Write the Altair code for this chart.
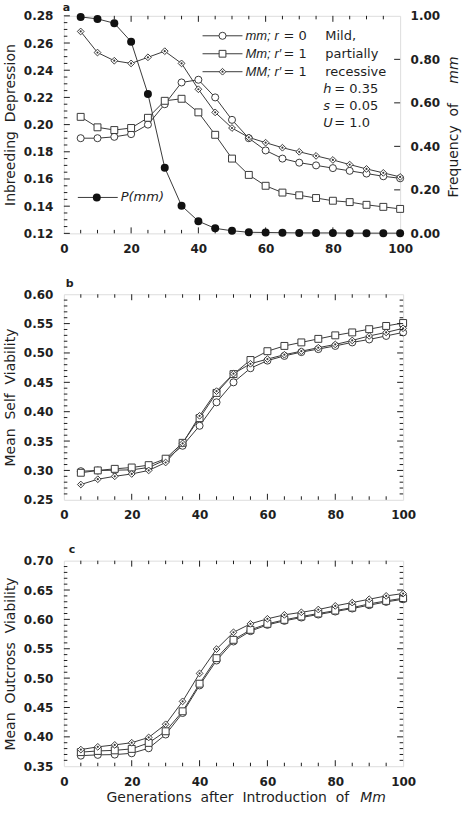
import altair as alt
import pandas as pd

# ---------------------------------------------------------------- data
gen = [5, 10, 15, 20, 25, 30, 35, 40, 45, 50,
       55, 60, 65, 70, 75, 80, 85, 90, 95, 100]

# (a) inbreeding depression by genotype, and frequency of mm
id_mm = [0.190, 0.190, 0.191, 0.193, 0.200, 0.215, 0.231, 0.233, 0.220, 0.2035,
         0.190, 0.181, 0.175, 0.172, 0.170, 0.168, 0.166, 0.164, 0.162, 0.1605]
id_Mm = [0.2057, 0.198, 0.196, 0.1975, 0.205, 0.2175, 0.219, 0.209, 0.1925, 0.175,
         0.163, 0.155, 0.150, 0.148, 0.146, 0.144, 0.143, 0.141, 0.1395, 0.138]
id_MM = [0.2685, 0.253, 0.247, 0.245, 0.2495, 0.254, 0.245, 0.226, 0.209, 0.1975,
         0.1906, 0.1867, 0.183, 0.180, 0.177, 0.174, 0.1706, 0.1674, 0.1645, 0.1615]
p_mm = [0.995, 0.986, 0.966, 0.881, 0.641, 0.302, 0.127, 0.056, 0.023, 0.012,
        0.005, 0.004, 0.003, 0.002, 0.002, 0.002, 0.001, 0.001, 0.001, 0.001]

# (b) mean self viability
sv_mm = [0.2987, 0.2998, 0.3004, 0.301, 0.305, 0.318, 0.342, 0.376, 0.416, 0.450,
         0.474, 0.487, 0.495, 0.5015, 0.5066, 0.512, 0.518, 0.523, 0.529, 0.535]
sv_Mm = [0.296, 0.300, 0.3027, 0.305, 0.309, 0.320, 0.347, 0.389, 0.432, 0.464,
         0.488, 0.503, 0.512, 0.518, 0.524, 0.530, 0.535, 0.5405, 0.546, 0.551]
sv_MM = [0.276, 0.285, 0.290, 0.294, 0.300, 0.3135, 0.346, 0.393, 0.435, 0.4647,
         0.4816, 0.4896, 0.497, 0.503, 0.509, 0.5145, 0.5213, 0.529, 0.535, 0.542]

# (c) mean outcross viability
ov_mm = [0.368, 0.3693, 0.3698, 0.372, 0.3806, 0.404, 0.4406, 0.4876, 0.530, 0.5624,
         0.580, 0.5907, 0.5975, 0.6032, 0.6083, 0.6134, 0.6185, 0.6242, 0.6298, 0.6343]
ov_Mm = [0.374, 0.376, 0.377, 0.3795, 0.3897, 0.4095, 0.4435, 0.4905, 0.534, 0.5652,
         0.5822, 0.5924, 0.5992, 0.6049, 0.610, 0.615, 0.620, 0.6264, 0.6315, 0.636]
ov_MM = [0.3783, 0.383, 0.3863, 0.390, 0.399, 0.4214, 0.4604, 0.508, 0.5494, 0.578,
         0.5924, 0.601, 0.6077, 0.612, 0.6168, 0.623, 0.6286, 0.6343, 0.640, 0.644]

genotypes = ["mm", "Mm", "MM"]
x_labels = [0, 20, 40, 60, 80, 100]
x_major = [20, 40, 60, 80]
x_minor = [5, 10, 15, 25, 30, 35, 45, 50, 55, 65, 70, 75, 85, 90, 95]

a_labels = [0.12, 0.14, 0.16, 0.18, 0.20, 0.22, 0.24, 0.26, 0.28]
a_minor = [0.125, 0.13, 0.135, 0.145, 0.15, 0.155, 0.165, 0.17, 0.175,
           0.185, 0.19, 0.195, 0.205, 0.21, 0.215, 0.225, 0.23, 0.235,
           0.245, 0.25, 0.255, 0.265, 0.27, 0.275]
p_labels = [0.0, 0.2, 0.4, 0.6, 0.8, 1.0]

b_labels = [0.25, 0.30, 0.35, 0.40, 0.45, 0.50, 0.55, 0.60]
b_minor = [0.26, 0.27, 0.28, 0.29, 0.31, 0.32, 0.33, 0.34, 0.36, 0.37, 0.38, 0.39,
           0.41, 0.42, 0.43, 0.44, 0.46, 0.47, 0.48, 0.49, 0.51, 0.52, 0.53, 0.54,
           0.56, 0.57, 0.58, 0.59]
c_labels = [0.35, 0.40, 0.45, 0.50, 0.55, 0.60, 0.65, 0.70]
c_minor = [0.36, 0.37, 0.38, 0.39, 0.41, 0.42, 0.43, 0.44, 0.46, 0.47, 0.48, 0.49,
           0.51, 0.52, 0.53, 0.54, 0.56, 0.57, 0.58, 0.59, 0.61, 0.62, 0.63, 0.64,
           0.66, 0.67, 0.68, 0.69]

# ---------------------------------------------------------------- styling
FONT = "DejaVu Sans"
NARROW = "Liberation Sans"
INK = "#1e1e1e"
LINE = "#3a3a3a"
MAJOR, MINOR = 6, 3.5
SP = "\u2007"

one = pd.DataFrame({"k": [0]})


def long_frame(series):
    rows = []
    for g, vals in zip(genotypes, series):
        for x, v in zip(gen, vals):
            rows.append({"gen": x, "v": v, "geno": g})
    return pd.DataFrame(rows)


def text(t, x, y, italic=False, size=13, weight="normal", align="left", angle=0,
         font=FONT):
    return alt.Chart(one).mark_text(
        text=t, font=font, fontSize=size, fontWeight=weight,
        fontStyle="italic" if italic else "normal", align=align,
        baseline="middle", angle=angle, color=INK,
    ).encode(x=alt.value(x), y=alt.value(y))


XS = alt.Scale(domain=[0, 100], nice=False, zero=False)
X_AXIS = alt.Axis(values=x_labels, ticks=False, domain=False, grid=False,
                  labelFlush=False, labelOverlap=False, labelPadding=10,
                  labelFont=FONT, labelFontSize=12, labelFontWeight="bold",
                  labelColor=INK, title=None)


def y_axis(values, title, H):
    return alt.Axis(values=values, format=".2f", ticks=False, domain=False, grid=False,
                    labelPadding=11, labelFont=FONT, labelFontSize=12,
                    labelFontWeight="bold", labelColor=INK, labelOverlap=False,
                    labelFlush=False,
                    title=title, titleFont=FONT, titleFontSize=14,
                    titleFontWeight="normal", titleColor=INK, titleAngle=270,
                    titleX=-53, titleY=H / 2, titleAlign="center",
                    titleBaseline="middle")


def series_layers(df, ys, yaxis):
    base = alt.Chart(df)
    xe = alt.X("gen:Q", scale=XS, axis=X_AXIS)
    ye = alt.Y("v:Q", scale=ys, axis=yaxis)
    lines = base.mark_line(color=LINE, strokeWidth=1).encode(x=xe, y=ye,
                                                              detail="geno:N")
    pts = base.mark_point(filled=True, fill="white", stroke=LINE, strokeWidth=1,
                          opacity=1).encode(
        x=xe, y=ye,
        shape=alt.Shape("geno:N", scale=alt.Scale(domain=genotypes,
                        range=["circle", "square", "diamond"]), legend=None),
        size=alt.Size("geno:N", scale=alt.Scale(domain=genotypes,
                      range=[50, 46, 45]), legend=None),
    )
    dots = base.transform_filter(alt.datum.geno == "MM").mark_point(
        filled=True, color=LINE, size=5, opacity=1).encode(x=xe, y=ye)
    return [lines, pts, dots]


def x_ticks(H):
    out = []
    for vals, ln in ((x_major, MAJOR), (x_minor, MINOR)):
        d = pd.DataFrame({"gen": vals})
        xe = alt.X("gen:Q", scale=XS, axis=X_AXIS)
        out.append(alt.Chart(d).mark_rule(color=INK, strokeWidth=1).encode(
            x=xe, y=alt.value(H), y2=alt.value(H - ln)))
        out.append(alt.Chart(d).mark_rule(color=INK, strokeWidth=1).encode(
            x=xe, y=alt.value(0), y2=alt.value(ln)))
    return out


def y_ticks(vals, ys, yaxis, field, ln, W, left=True, right=True):
    d = pd.DataFrame({field: vals})
    ye = alt.Y(f"{field}:Q", scale=ys, axis=yaxis)
    out = []
    if left:
        out.append(alt.Chart(d).mark_rule(color=INK, strokeWidth=1).encode(
            y=ye, x=alt.value(0), x2=alt.value(ln)))
    if right:
        out.append(alt.Chart(d).mark_rule(color=INK, strokeWidth=1).encode(
            y=ye, x=alt.value(W), x2=alt.value(W - ln)))
    return out


# ---------------------------------------------------------------- panel a
WA, HA = 337, 218
ys_a = alt.Scale(domain=[0.12, 0.28], nice=False, zero=False)
ax_a = y_axis(a_labels, f"Inbreeding{SP}Depression", HA)
df_a = long_frame([id_mm, id_Mm, id_MM])

legend_rows = [("circle", 50, "mm;", "r", "= 0", 20),
               ("square", 46, "Mm;", "r\u2032", "= 1", 38),
               ("diamond", 45, "MM;", "r\u2032", "= 1", 56)]
legend = []
for shape, size, g, r, eq, yy in legend_rows:
    legend.append(alt.Chart(one).mark_rule(color=LINE, strokeWidth=1).encode(
        x=alt.value(139), x2=alt.value(179), y=alt.value(yy)))
    legend.append(alt.Chart(one).mark_point(shape=shape, size=size, filled=True,
                                            fill="white", stroke=LINE, strokeWidth=1,
                                            opacity=1).encode(
        x=alt.value(159), y=alt.value(yy)))
    legend.append(text(g, 182, yy, italic=True, font=NARROW))
    legend.append(text(r, 211, yy, italic=True, font=NARROW))
    legend.append(text(eq, 220, yy))
legend.append(alt.Chart(one).mark_point(filled=True, color=LINE, size=5, opacity=1)
              .encode(x=alt.value(159), y=alt.value(56)))

notes = [text("Mild,", 262, 20), text("partially", 262, 38),
         text("recessive", 262, 56),
         text("h", 260, 73, italic=True), text("= 0.35", 271, 73),
         text("s", 260, 90, italic=True), text("= 0.05", 271, 90),
         text("U", 260, 107, italic=True), text("= 1.0", 271, 107)]

left_a = alt.layer(
    *series_layers(df_a, ys_a, ax_a),
    *x_ticks(HA),
    *y_ticks(a_labels, ys_a, ax_a, "v", MAJOR, WA, right=False),
    *y_ticks(a_minor, ys_a, ax_a, "v", MINOR, WA, right=False),
    *legend, *notes,
    text("a", -1, -8, size=11, weight="bold"),
)

df_p = pd.DataFrame({"gen": gen, "p": p_mm})
ys_p = alt.Scale(domain=[0, 1], nice=False, zero=False)
p_axis = alt.Axis(orient="right", values=p_labels, format=".2f", ticks=False,
                  domain=False, grid=False, labelPadding=10, labelFont=FONT,
                  labelFontSize=12, labelFontWeight="bold", labelColor=INK,
                  labelOverlap=False, labelFlush=False, title=None)
xe_p = alt.X("gen:Q", scale=XS, axis=X_AXIS)
ye_p = alt.Y("p:Q", scale=ys_p, axis=p_axis)
p_line = alt.Chart(df_p).mark_line(color=LINE, strokeWidth=1).encode(x=xe_p, y=ye_p)
p_dots = alt.Chart(df_p).mark_point(filled=True, color="#111111", size=64,
                                    opacity=1).encode(x=xe_p, y=ye_p)
right_a = alt.layer(
    p_line, p_dots,
    *y_ticks(p_labels[1:-1], ys_p, p_axis, "p", MAJOR, WA, left=False),
    alt.Chart(one).mark_rule(color=LINE, strokeWidth=1).encode(
        x=alt.value(14), x2=alt.value(54), y=alt.value(182)),
    alt.Chart(one).mark_point(filled=True, color="#111111", size=64, opacity=1)
    .encode(x=alt.value(33), y=alt.value(182)),
    text("P(mm)", 57, 182, italic=True),
    text(f"Frequency{SP}of", 391, 182, angle=270, size=14),
    text("mm", 391, 68, angle=270, size=14, italic=True),
)

panel_a = alt.layer(left_a, right_a).resolve_scale(y="independent").properties(
    width=WA, height=HA)

# ---------------------------------------------------------------- panel b
WB, HB = 340, 206
ys_b = alt.Scale(domain=[0.25, 0.60], nice=False, zero=False)
ax_b = y_axis(b_labels, f"Mean{SP}Self{SP}Viability", HB)
panel_b = alt.layer(
    *series_layers(long_frame([sv_mm, sv_Mm, sv_MM]), ys_b, ax_b),
    *x_ticks(HB),
    *y_ticks(b_labels[1:-1], ys_b, ax_b, "v", MAJOR, WB),
    *y_ticks(b_minor, ys_b, ax_b, "v", MINOR, WB),
    text("b", 2, -10, size=11, weight="bold"),
).properties(width=WB, height=HB)

# ---------------------------------------------------------------- panel c
WC, HC = 340, 206
ys_c = alt.Scale(domain=[0.35, 0.70], nice=False, zero=False)
ax_c = y_axis(c_labels, f"Mean{SP}Outcross{SP}Viability", HC)
panel_c = alt.layer(
    *series_layers(long_frame([ov_mm, ov_Mm, ov_MM]), ys_c, ax_c),
    *x_ticks(HC),
    *y_ticks(c_labels[1:-1], ys_c, ax_c, "v", MAJOR, WC),
    *y_ticks(c_minor, ys_c, ax_c, "v", MINOR, WC),
    text("c", 5, -11, size=11, weight="bold"),
    text(f"Generations{SP}after{SP}Introduction{SP}of", 286, HC + 32, size=14,
         align="right"),
    text("Mm", 297, HC + 32, size=14, italic=True),
).properties(width=WC, height=HC)

chart = alt.vconcat(panel_a, panel_b, panel_c, spacing=61, bounds="flush").properties(
    padding={"left": 3, "top": 0, "right": 0, "bottom": 0}
).configure_view(stroke="#111111", strokeWidth=1.2).configure(
    background="white")

chart.save("out.html", embed_options={"renderer": "svg", "actions": False})
